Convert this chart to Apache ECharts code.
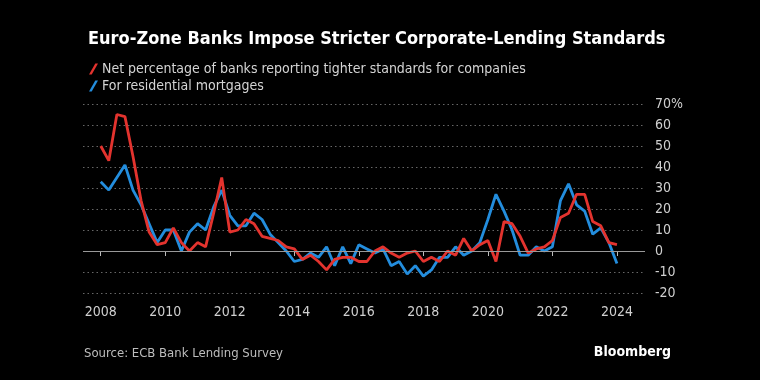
<!DOCTYPE html>
<html>
<head>
<meta charset="utf-8">
<script src="https://cdn.jsdelivr.net/npm/echarts@6/dist/echarts.min.js"></script>
<style>
html,body{margin:0;padding:0;background:#000;}
#c{width:760px;height:380px;}
</style>
</head>
<body>
<div id="c"></div>
<script>
// Quarterly observations, 2008 Q1 .. 2024 Q1
const startYear = 2008;
const corporate = [50, 43, 65, 64, 45, 24, 9, 3, 4, 11, 4, 0, 4, 2, 18, 35, 9, 10, 15, 13, 7, 6, 5, 2, 1, -4, -2, -5, -9, -4, -3, -3, -5, -5, 0, 2, -1, -3, -1, 0, -5, -3, -5, 0, -2, 6, 0, 3, 5, -5, 14, 13, 7, -1, 1, 2, 5, 16, 18, 27, 27, 14, 12, 4, 3];
const mortgages = [33, 29, 35, 41, 29, 22, 13, 4, 10, 10, 0, 9, 13, 10, 21, 29, 17, 12, 12, 18, 15, 8, 4, 0, -5, -4, -1, -3, 2, -7, 2, -6, 3, 1, -1, 1, -7, -5, -11, -7, -12, -9, -3, -3, 2, -2, 0, 4, 15, 27, 19, 10, -2, -2, 2, 0, 2, 24, 32, 22, 19, 8, 11, 4, -6];
const xTickLabels = [2008, 2010, 2012, 2014, 2016, 2018, 2020, 2022, 2024];
const seriesNames = ['Net percentage of banks reporting tighter standards for companies', 'For residential mortgages'];

const toPoints = arr => arr.map((v, i) => [startYear + i / 4, v]);
const FONT = "'Liberation Sans Narrow', 'DejaVu Sans Condensed', 'Liberation Sans', sans-serif";
const slash = 'path://M7,0 L10,0 L3,12 L0,12 Z';

const chart = echarts.init(document.getElementById('c'), null, {renderer: 'canvas'});
chart.setOption({
  backgroundColor: '#000',
  animation: false,
  title: {
    text: 'Euro-Zone Banks Impose Stricter Corporate-Lending Standards',
    left: 83, top: 25,
    textStyle: {color: '#fff', fontSize: 18, fontWeight: 'bold', fontFamily: FONT}
  },
  legend: {
    orient: 'vertical', left: 84, top: 57, itemGap: 3,
    itemWidth: 9, itemHeight: 13,
    textStyle: {color: '#d4d4d4', fontSize: 14, fontFamily: FONT, padding: [0, 0, 0, -1]},
    data: [
      {name: seriesNames[0], icon: slash},
      {name: seriesNames[1], icon: slash}
    ]
  },
  grid: {left: 83, right: 115, top: 104, bottom: 87},
  xAxis: {
    type: 'value', min: 2007.45, max: 2024.87,
    axisLine: {show: false},
    splitLine: {show: false},
    axisTick: {show: true, length: 5, customValues: xTickLabels, lineStyle: {color: '#bbb'}},
    axisLabel: {customValues: xTickLabels, color: '#d0d0d0', fontSize: 14, margin: 12, fontFamily: FONT,
      formatter: v => String(v)}
  },
  yAxis: {
    type: 'value', position: 'right', min: -20, max: 70, interval: 10,
    axisLine: {show: false}, axisTick: {show: false},
    axisLabel: {
      color: '#d0d0d0', fontSize: 14, margin: 10, align: 'left', fontFamily: FONT,
      formatter: v => (v === 70 ? v + '%' : String(v))
    },
    splitLine: {lineStyle: {color: '#666', type: [1.5, 3], width: 1}}
  },
  series: [
    {
      name: seriesNames[0], type: 'line', data: toPoints(corporate),
      showSymbol: false, z: 3,
      lineStyle: {color: '#e3332e', width: 2.8}, itemStyle: {color: '#e3332e'},
      markLine: {
        silent: true, symbol: 'none', label: {show: false},
        lineStyle: {color: '#999', type: 'solid', width: 1},
        data: [{yAxis: 0}]
      }
    },
    {
      name: seriesNames[1], type: 'line', data: toPoints(mortgages),
      showSymbol: false, z: 2,
      lineStyle: {color: '#238ddd', width: 2.8}, itemStyle: {color: '#238ddd'}
    }
  ],
  graphic: [
    {type: 'text', left: 84, top: 347, style: {text: 'Source: ECB Bank Lending Survey', fill: '#bdbdbd', fontSize: 13, fontFamily: FONT}},
    {type: 'text', right: 89, top: 345, style: {text: 'Bloomberg', fill: '#fff', fontSize: 14, fontWeight: 'bold', fontFamily: FONT}}
  ]
});
</script>
</body>
</html>
